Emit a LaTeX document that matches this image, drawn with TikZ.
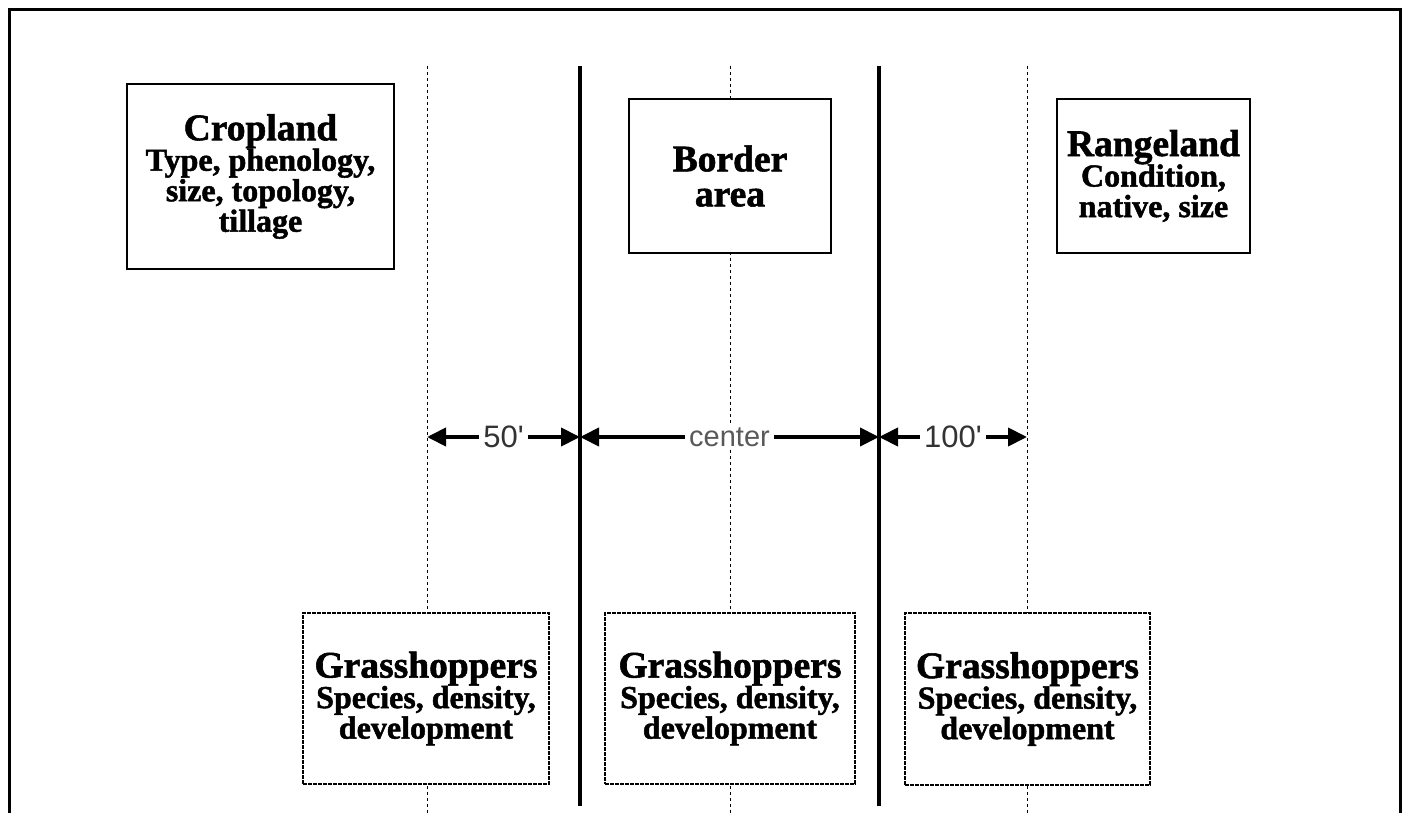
\documentclass[tikz,border=0pt]{standalone}
\usepackage{fontspec}
\setmainfont{Liberation Serif}[BoldFeatures={FakeBold=1.5}]
\newfontfamily\lblfont{Liberation Sans}[Ligatures=TeXOff]
\usetikzlibrary{arrows.meta}
\begin{document}
\begin{tikzpicture}[x=1pt,y=-1pt,
  frame/.style={line width=3pt},
  guide/.style={line width=1pt, dash pattern=on 3pt off 3pt},
  wall/.style={line width=4.5pt},
  topbox/.style={draw, line width=1.5pt, fill=white, align=center, inner sep=0pt,
    font=\bfseries\fontsize{32}{30.5}\selectfont},
  gbox/.style={topbox, dash pattern=on 4pt off 1pt},
  dim/.style={line width=4pt, {Triangle[length=19pt,width=18pt]}-{Triangle[length=19pt,width=18pt]}},
  lbl/.style={fill=white, inner xsep=4pt, inner ysep=1pt, text=black!80,
    font=\lblfont\fontsize{31}{32}\selectfont}
]
\newcommand\ttlfont{\fontsize{37.5}{30.5}\selectfont}
\useasboundingbox (0,0) rectangle (1406,813);
% frame (open at the bottom)
\coordinate (fl) at (9,813);
\coordinate (ftl) at (9,10);
\coordinate (ftr) at (1400,10);
\coordinate (fr) at (1400,813);
\draw[frame] (fl) -- (ftl) -- (ftr) -- (fr);
% guide lines and walls
\foreach \n/\x in {g1/427, g2/730, g3/1027} {
  \coordinate (\n t) at (\x,66);
  \coordinate (\n b) at (\x,813);
  \draw[guide] (\n t) -- (\n b);
}
\foreach \n/\x in {w1/580, w2/879} {
  \coordinate (\n t) at (\x,66);
  \coordinate (\n b) at (\x,806);
  \draw[wall] (\n t) -- (\n b);
}
% top boxes
\node[topbox, minimum width=267pt, minimum height=185pt] (crop) at (260.5,176.5)
  {{\ttlfont Cropland}\\Type, phenology,\\size, topology,\\tillage};
\node[topbox, minimum width=202pt, minimum height=154pt,
  font=\bfseries\fontsize{37.5}{35}\selectfont] (border) at (730,176) {Border\\area};
\node[topbox, minimum width=193pt, minimum height=154pt] (range) at (1153.5,176)
  {{\ttlfont Rangeland}\\Condition,\\native, size};
% bottom boxes
\node[gbox, minimum width=246pt, minimum height=171pt] (h1) at (426,698.5)
  {{\ttlfont Grasshoppers}\\Species, density,\\development};
\node[gbox, minimum width=250pt, minimum height=171pt] (h2) at (730,698.5)
  {{\ttlfont Grasshoppers}\\Species, density,\\development};
\node[gbox, minimum width=245pt, minimum height=172pt] (h3) at (1027.5,699)
  {{\ttlfont Grasshoppers}\\Species, density,\\development};
% dimension arrows
\coordinate (d1) at (427,437);
\coordinate (d2) at (580,437);
\coordinate (d3) at (879,437);
\coordinate (d4) at (1027,437);
\draw[dim] (d1) -- node[lbl] {50'} (d2);
\draw[dim] (d2) -- node[lbl, text=black!65, font=\lblfont\fontsize{29}{30}\selectfont] {center} (d3);
\draw[dim] (d3) -- node[lbl] {100'} (d4);
\end{tikzpicture}
\end{document}
